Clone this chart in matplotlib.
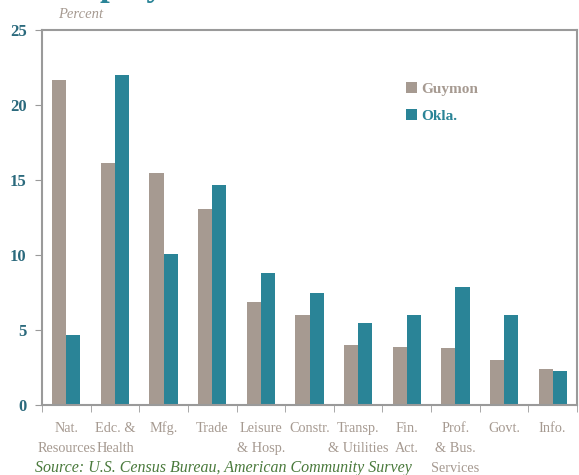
import numpy as np
import matplotlib.pyplot as plt

# data
categories = ["Nat.\nResources", "Edc. &\nHealth", "Mfg.", "Trade", "Leisure\n& Hosp.",
              "Constr.", "Transp.\n& Utilities", "Fin.\nAct.", "Prof.\n& Bus.\nServices",
              "Govt.", "Info."]
guymon = [21.7, 16.1, 15.5, 13.1, 6.9, 6.0, 4.0, 3.9, 3.8, 3.0, 2.4]
okla = [4.7, 22.0, 10.1, 14.7, 8.8, 7.5, 5.5, 6.0, 7.9, 6.0, 2.3]
yticks = [0, 5, 10, 15, 20, 25]

c_guy = "#A69A91"
c_okla = "#2A8497"
c_tick = "#2B6A7D"
c_axis = "#9A9A9A"

plt.rcParams['font.family'] = ['Liberation Serif', 'DejaVu Serif']

fig = plt.figure(figsize=(5.79, 4.75), dpi=100)
ax = fig.add_axes([42 / 579, 70 / 475, 535 / 579, 375 / 475])

x = np.arange(len(categories))
w = 0.29
ax.bar(x - w / 2, guymon, w, color=c_guy, label="Guymon")
ax.bar(x + w / 2, okla, w, color=c_okla, label="Okla.")

ax.set_xlim(-0.5, len(categories) - 0.5)
ax.set_ylim(0, 25)
ax.set_yticks(yticks)
ax.tick_params(axis='y', direction='out', length=5, color=c_axis, labelcolor=c_tick,
               labelsize=12, pad=6)
for lab in ax.get_yticklabels():
    lab.set_fontweight('bold')

# category labels centered, tick marks at boundaries
ax.set_xticks(x)
ax.set_xticklabels(categories, color=c_guy, fontsize=10.3, linespacing=1.7, va='top')
ax.tick_params(axis='x', length=0, pad=12)
ax.set_xticks(np.arange(len(categories) + 1) - 0.5, minor=True)
ax.tick_params(axis='x', which='minor', length=5, color=c_axis, direction='out')

for s in ax.spines.values():
    s.set_color(c_axis)
    s.set_linewidth(1.5)

leg = ax.legend(loc='upper left', bbox_to_anchor=(0.655, 0.897), frameon=False,
                handlelength=0.7, handleheight=0.7, handletextpad=0.3,
                labelspacing=0.85, prop={'size': 11, 'weight': 'bold'})
for t, c in zip(leg.get_texts(), [c_guy, c_okla]):
    t.set_color(c)

fig.text(58 / 579, 1 - 15 / 475, "Percent", color=c_guy, style='italic', fontsize=10.5,
         va='center')
fig.text(48 / 579, 1 + 5 / 475, "Employment", color=c_okla, fontweight='bold', fontsize=25,
         va='baseline')
fig.text(35 / 579, 1 - 468 / 475, "Source: U.S. Census Bureau, American Community Survey",
         color="#4A7A3C", style='italic', fontsize=11.5, va='center')

fig.savefig("out.png", dpi=100)
